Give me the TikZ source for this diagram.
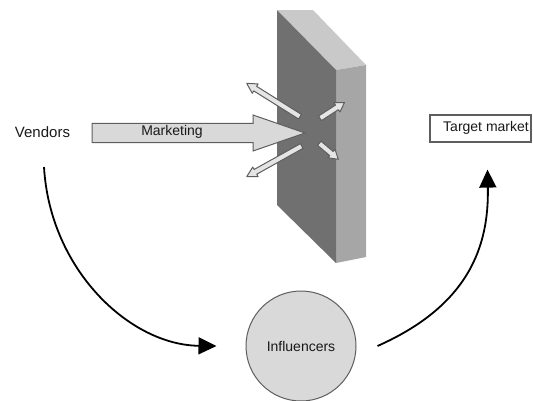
\documentclass[tikz,border=0pt]{standalone}
\usepackage{fontspec}
\setmainfont{Liberation Sans}
\usetikzlibrary{arrows.meta,calc}
\definecolor{wallfront}{HTML}{707070}
\definecolor{walltop}{HTML}{C9C9C9}
\definecolor{wallside}{HTML}{A6A6A6}
\definecolor{lightfill}{HTML}{D9D9D9}
\definecolor{edgegray}{HTML}{5E5E5E}
% #1 style, #2 from, #3 to, #4 half shaft width, #5 half head width, #6 head length
\newcommand\blockarrow[6][]{%
  \coordinate (bah) at ($(#3)!#6!(#2)$);
  \draw[#1] ($(#2)!#4!90:(#3)$) -- ($(bah)!#4!90:(#3)$) -- ($(bah)!#5!90:(#3)$)
    -- (#3) -- ($(bah)!#5!-90:(#3)$) -- ($(bah)!#4!-90:(#3)$)
    -- ($(#2)!#4!-90:(#3)$) -- cycle;
}
\tikzset{
  lbl/.style={font=\fontsize{14}{16}\selectfont, text=black!90, inner sep=0pt},
  bigarrow/.style={fill=lightfill, draw=edgegray, line width=1pt, line join=miter},
  smallarrow/.style={fill=white!90!black, draw=edgegray, line width=1pt, line join=round},
  conn/.style={draw=black, line width=1.8pt, -{Triangle[length=18pt,width=17pt]}},
}
\begin{document}
\begin{tikzpicture}[x=1pt,y=-1pt]
\useasboundingbox (0,0) rectangle (533,400);
% wall
\fill[walltop] (277,10) -- (313,10) -- (366,65) -- (336,70) -- cycle;
\fill[wallside] (336,70) -- (366,65) -- (366,257) -- (336,263) -- cycle;
\fill[wallfront] (277,10) -- (336,70) -- (336,263) -- (277,205) -- cycle;
% marketing arrow
\coordinate (mkA) at (92,133);
\coordinate (mkB) at (305,133);
\blockarrow[bigarrow]{mkA}{mkB}{9.7pt}{18pt}{52pt}
\node[lbl] (marketing) at (172,132) {Marketing};
% small arrows at the wall
\coordinate (ulA) at (300,116.7); \coordinate (ulB) at (246.7,83.3);
\coordinate (llA) at (301.7,146); \coordinate (llB) at (246.7,176.7);
\coordinate (urA) at (320,118.3); \coordinate (urB) at (344.5,102.5);
\coordinate (lrA) at (319.3,143.3); \coordinate (lrB) at (338.3,159.3);
\blockarrow[smallarrow]{ulA}{ulB}{2.7pt}{5.5pt}{10pt}
\blockarrow[smallarrow]{llA}{llB}{2.7pt}{5.5pt}{10pt}
\blockarrow[smallarrow]{urA}{urB}{2.7pt}{5.5pt}{9pt}
\blockarrow[smallarrow]{lrA}{lrB}{2.7pt}{5.5pt}{9pt}
% nodes
\node[lbl, font=\fontsize{15}{17}\selectfont] (vendors) at (42.5,132.5) {Vendors};
\node[draw=edgegray, line width=1.2pt, fill=white, minimum width=101pt, minimum height=27pt,
      inner sep=0pt] (target) at (480.5,128.5) {};
\node[lbl, anchor=east] (targettext) at (529,128) {Target market};
\node[circle, draw=edgegray, line width=1pt, fill=lightfill, minimum size=110pt, inner sep=0pt,
      lbl] (infl) at (301,346) {Influencers};
% connectors
\draw[conn] ([xshift=1.5pt,yshift=-34.5pt]vendors.center) .. controls (50,270) and (130,345) .. ([xshift=-29pt]infl.west);
\draw[conn] ([xshift=21pt]infl.east) .. controls (470,305) and (489,245) .. ([xshift=7pt,yshift=-27pt]target.south);
\end{tikzpicture}
\end{document}
